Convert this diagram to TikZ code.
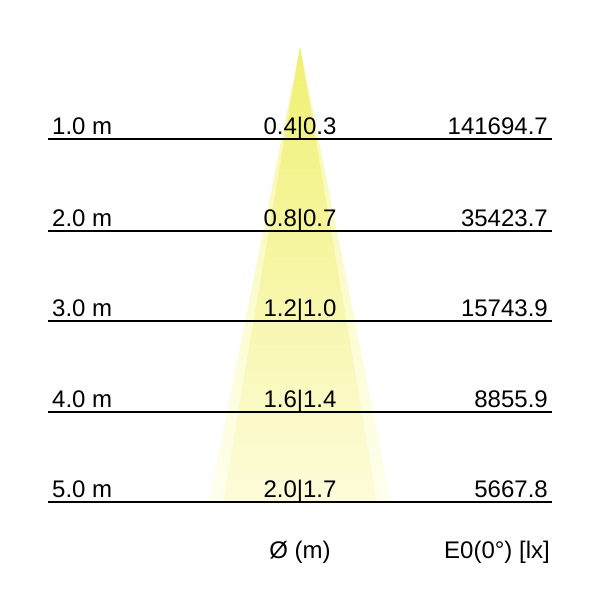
\documentclass[tikz,border=0pt]{standalone}
\usepackage{fontspec}
\setmainfont{Liberation Sans}
\definecolor{outerTop}{RGB}{247,247,170}
\definecolor{outerMid}{RGB}{253,252,215}
\definecolor{outerBot}{RGB}{255,255,238}
\definecolor{innerTop}{RGB}{240,240,115}
\definecolor{innerMid}{RGB}{250,248,185}
\definecolor{innerBot}{RGB}{253,252,218}
\begin{document}
\begin{tikzpicture}[x=1pt,y=-1pt,
  lvl/.style={draw=black,line width=1.6pt},
  lab/.style={font=\fontsize{24}{26}\selectfont,inner sep=0pt},
  lefttxt/.style={lab,anchor=base west},
  midtxt/.style={lab,anchor=base},
  righttxt/.style={lab,anchor=base east}]
\useasboundingbox (0,0) rectangle (600,600);
\fill[white] (0,0) rectangle (600,600);
% cone
\coordinate (apex) at (300,47);
\shade[top color=outerTop, middle color=outerMid, bottom color=outerBot] (apex) -- (209,502) -- (391,502) -- cycle;
\shade[top color=innerTop, middle color=innerMid, bottom color=innerBot] (apex) -- (223,502) -- (377,502) -- cycle;
% levels
\foreach \y/\d/\c/\e [count=\i] in {139/1.0/0.4|0.3/141694.7, 231/2.0/0.8|0.7/35423.7, 321/3.0/1.2|1.0/15743.9, 412/4.0/1.6|1.4/8855.9, 502/5.0/2.0|1.7/5667.8}{
  \coordinate (l\i) at (48,\y);
  \coordinate (r\i) at (552,\y);
  \draw[lvl] (l\i) -- (r\i);
  \node[lefttxt] (d\i) at (52,\y-5) {\d\ m};
  \node[midtxt] (c\i) at (300,\y-5) {\c};
  \node[righttxt] (e\i) at (548,\y-5) {\e};
}
\node[midtxt] (diam) at (300,558) {Ø (m)};
\node[righttxt] (lux) at (550,558) {E0(0°) [lx]};
\end{tikzpicture}
\end{document}
